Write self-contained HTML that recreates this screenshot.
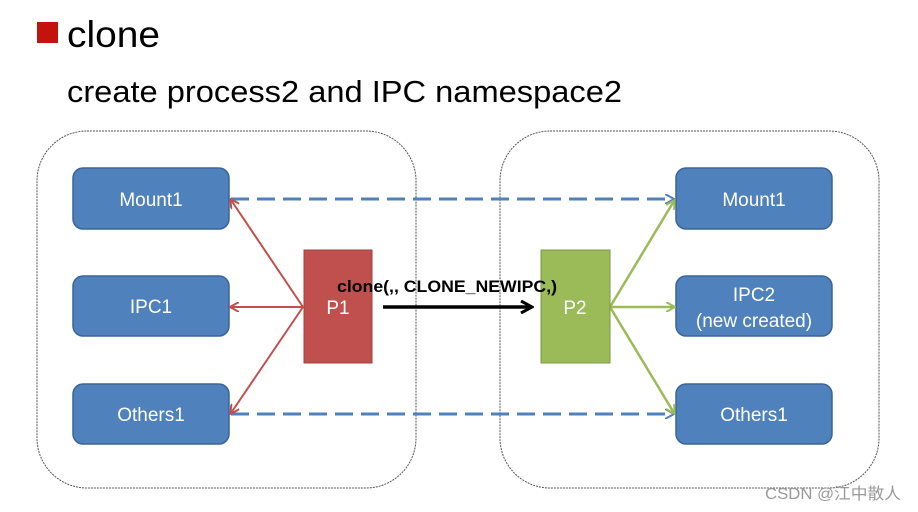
<!DOCTYPE html>
<html><head><meta charset="utf-8"><style>
html,body{margin:0;padding:0;background:#fff;width:918px;height:512px;overflow:hidden}
</style></head><body>
<svg width="918" height="512" xmlns="http://www.w3.org/2000/svg" font-family="Liberation Sans, DejaVu Sans, sans-serif">
<defs>
<marker id="r" markerWidth="10" markerHeight="10" refX="8" refY="5" orient="auto" markerUnits="userSpaceOnUse"><path d="M0,0 L9,5 L0,10" fill="none" stroke="#c0504d" stroke-width="2"/></marker>
<marker id="g" markerWidth="10" markerHeight="10" refX="8" refY="5" orient="auto" markerUnits="userSpaceOnUse"><path d="M0,0 L9,5 L0,10" fill="none" stroke="#9bbb59" stroke-width="2"/></marker>
<marker id="b" markerWidth="10" markerHeight="10" refX="8" refY="5" orient="auto" markerUnits="userSpaceOnUse"><path d="M0,0 L9,5 L0,10" fill="none" stroke="#4f81bd" stroke-width="2"/></marker>
<marker id="k" markerWidth="14" markerHeight="14" refX="12" refY="7" orient="auto" markerUnits="userSpaceOnUse"><path d="M1,1 L12,7 L1,13" fill="none" stroke="#000" stroke-width="3"/></marker>
</defs>
<rect x="37" y="22" width="21" height="21" fill="#c0140c"/>
<text x="67" y="47" font-size="37" fill="#000" textLength="93" lengthAdjust="spacingAndGlyphs">clone</text>
<text x="67" y="102" font-size="31" fill="#000" textLength="555" lengthAdjust="spacingAndGlyphs">create process2 and IPC namespace2</text>
<rect x="37" y="131" width="379" height="357" rx="50" fill="none" stroke="#555" stroke-width="1" stroke-dasharray="2,1"/>
<rect x="500" y="131" width="379" height="357" rx="50" fill="none" stroke="#555" stroke-width="1" stroke-dasharray="2,1"/>
<line x1="231" y1="199" x2="673" y2="199" stroke="#4f81bd" stroke-width="3" stroke-dasharray="18,8" marker-end="url(#b)"/>
<line x1="231" y1="414" x2="673" y2="414" stroke="#4f81bd" stroke-width="3" stroke-dasharray="18,8" marker-end="url(#b)"/>
<g fill="#4f81bd" stroke="#3a6597" stroke-width="1.5">
<rect x="73" y="168" width="156" height="61" rx="10"/>
<rect x="73" y="276" width="156" height="60" rx="10"/>
<rect x="73" y="384" width="156" height="60" rx="10"/>
<rect x="676" y="168" width="156" height="61" rx="10"/>
<rect x="676" y="276" width="156" height="60" rx="10"/>
<rect x="676" y="384" width="156" height="60" rx="10"/>
</g>
<g fill="#fff" font-size="19" text-anchor="middle">
<text x="151" y="206">Mount1</text>
<text x="151" y="313">IPC1</text>
<text x="151" y="421">Others1</text>
<text x="754" y="206">Mount1</text>
<text x="754" y="301">IPC2</text>
<text x="754" y="327">(new created)</text>
<text x="754" y="421">Others1</text>
</g>
<g stroke="#c0504d" stroke-width="2" marker-end="url(#r)">
<line x1="303" y1="307" x2="231" y2="200"/>
<line x1="303" y1="307" x2="231" y2="307"/>
<line x1="303" y1="307" x2="231" y2="413"/>
</g>
<g stroke="#9bbb59" stroke-width="2.5" marker-end="url(#g)">
<line x1="610" y1="307" x2="674" y2="201"/>
<line x1="610" y1="307" x2="674" y2="307"/>
<line x1="610" y1="307" x2="674" y2="413"/>
</g>
<rect x="304" y="250" width="68" height="113" fill="#c0504d" stroke="#a0403d"/>
<rect x="541" y="250" width="69" height="113" fill="#9bbb59" stroke="#7a9a40"/>
<text x="338" y="314" fill="#fff" font-size="19" text-anchor="middle">P1</text>
<text x="575" y="314" fill="#fff" font-size="19" text-anchor="middle">P2</text>
<line x1="383" y1="307" x2="532" y2="307" stroke="#000" stroke-width="3.5" marker-end="url(#k)"/>
<text x="337" y="292" font-size="17" font-weight="bold" fill="#000" textLength="220" lengthAdjust="spacingAndGlyphs">clone(,, CLONE_NEWIPC,)</text>
<text x="765" y="499" font-size="16" fill="#999" textLength="136" lengthAdjust="spacingAndGlyphs" font-family="Liberation Sans, Noto Sans CJK SC, sans-serif">CSDN @江中散人</text>
</svg>
</body></html>
